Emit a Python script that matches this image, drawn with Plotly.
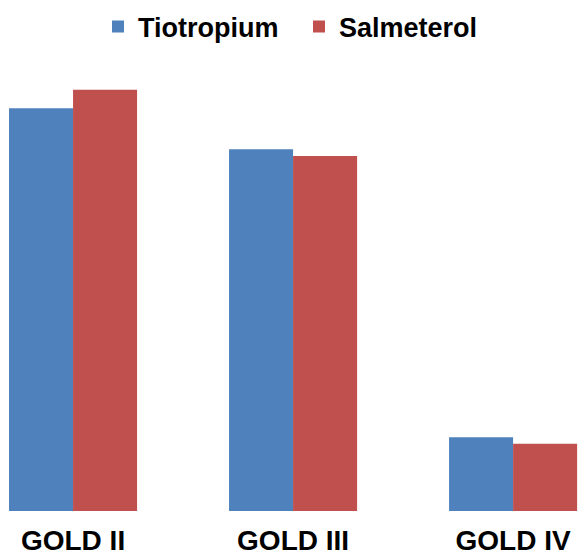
import plotly.graph_objects as go

# GOLD stage distribution by treatment arm (%)
stages = ["GOLD II", "GOLD III", "GOLD IV"]
tiotropium = [48.0, 43.1, 8.8]
salmeterol = [50.2, 42.3, 8.0]

BLUE = "#4F81BD"
RED = "#C0504D"
FONT = "Liberation Sans, Arial, sans-serif"

fig = go.Figure()
fig.add_trace(go.Bar(name="Tiotropium", x=stages, y=tiotropium,
                     marker=dict(color=BLUE, line=dict(width=0))))
fig.add_trace(go.Bar(name="Salmeterol", x=stages, y=salmeterol,
                     marker=dict(color=RED, line=dict(width=0))))

fig.update_layout(
    width=578, height=559,
    margin=dict(l=0, r=0, t=60, b=48, autoexpand=False),
    paper_bgcolor="white", plot_bgcolor="white",
    barmode="group", bargap=0.418, bargroupgap=0,
    font=dict(family=FONT, color="black"),
    showlegend=True,
    legend=dict(orientation="h", x=98 / 578, xanchor="left",
                y=1 - 27 / 559, yanchor="middle", yref="container",
                font=dict(size=27, weight="bold", family=FONT),
                itemwidth=30, entrywidth=156, entrywidthmode="pixels"),
    xaxis=dict(range=[-0.332, 2.295], showgrid=False, showline=False,
               zeroline=False, ticks="", ticklabelstandoff=10,
               automargin=False,
               tickfont=dict(size=28, weight="bold", family=FONT)),
    yaxis=dict(range=[0, 53.75], visible=False, showgrid=False,
               automargin=False),
)

fig.write_html("out.html")
